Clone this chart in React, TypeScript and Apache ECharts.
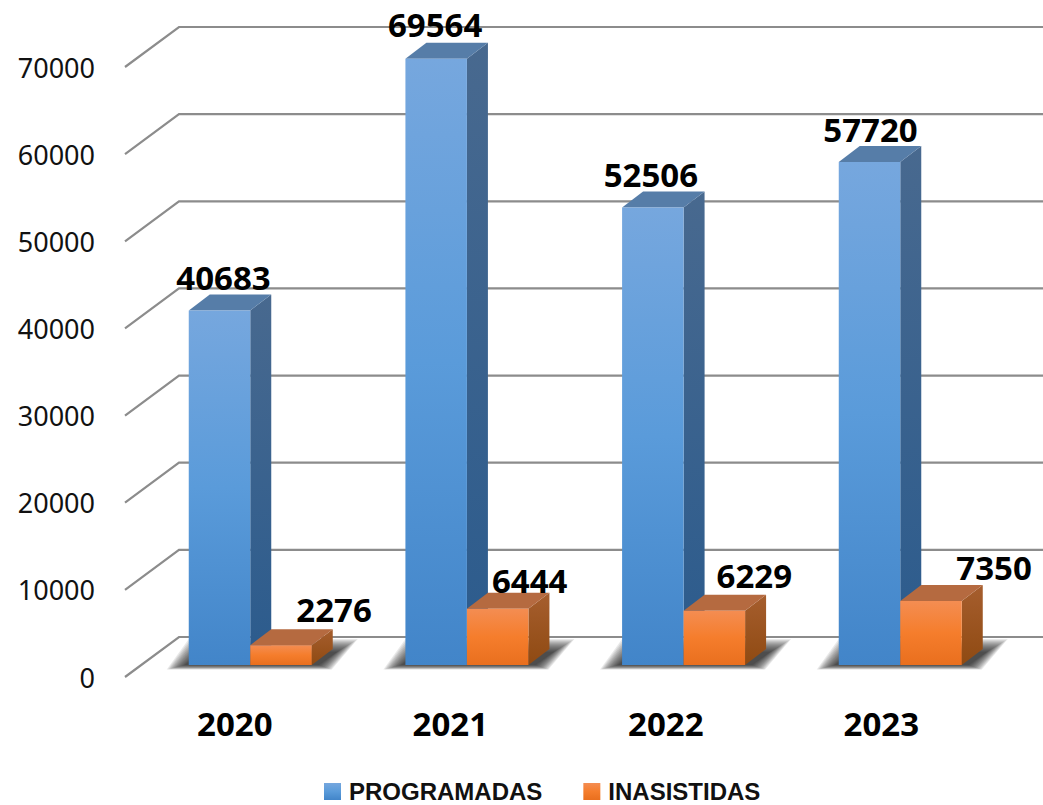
import React, { useEffect, useRef } from "react";
import * as echarts from "echarts";

const categories = ["2020", "2021", "2022", "2023"];
const programadas = [40683, 69564, 52506, 57720];
const inasistidas = [2276, 6444, 6229, 7350];
const axisTicks = [0, 10000, 20000, 30000, 40000, 50000, 60000, 70000];

// Hand-placed label offsets from the bar's top centre, in pixels
const programadasLabelOffsets = [[4, -33], [-1, -34], [-2, -33], [1, -33]];
const inasistidasLabelOffsets = [[53, -36], [32, -28], [40, -35], [63, -33]];
const shadowLayers = [10, 9, 8, 7, 6, 5, 4, 3, 2, 1, 0, -1, -2, -3];

const FONT = "'Noto Sans', sans-serif";
const LEGEND_FONT = "'Liberation Sans', sans-serif";
const DX = 21;
const DY = 16;
const BAR_W = 61.5;
const BASE_SHIFT = -12;
const groupShift = (i: number) => 15.5 + 1.17 * i;

const vgrad = (stops: [number, string][]) =>
  new echarts.graphic.LinearGradient(0, 0, 0, 1, stops.map(([offset, color]) => ({ offset, color })));

const blueFront = () => vgrad([[0, "#76A7DE"], [0.5, "#5A9BDA"], [1, "#4285C9"]]);
const blueSide = () => vgrad([[0, "#48698F"], [1, "#2B5B8D"]]);
const orangeFront = () => vgrad([[0, "#F48D52"], [0.5, "#F57D2C"], [1, "#E96F1E"]]);
const orangeSide = () => vgrad([[0, "#A65E2E"], [1, "#8F4A12"]]);

function barRenderer(
  side: number,
  front: () => any,
  sideFill: () => any,
  topFill: string,
  offsets: number[][]
) {
  return (_params: any, api: any) => {
    const i = api.value(0);
    const top = api.coord([i, api.value(1)]);
    const bottom = api.coord([i, 0]);
    const cx = top[0] + groupShift(i);
    const x0 = side < 0 ? cx - BAR_W : cx;
    const x1 = x0 + BAR_W;
    const yTop = top[1] + BASE_SHIFT;
    const yBase = bottom[1] + BASE_SHIFT;
    const [ox, oy] = offsets[i];
    return {
      type: "group",
      children: [
        {
          type: "polygon",
          shape: { points: [[x1, yTop], [x1 + DX, yTop - DY], [x1 + DX, yBase - DY], [x1, yBase]] },
          style: { fill: sideFill() },
        },
        {
          type: "polygon",
          shape: { points: [[x0, yTop], [x0 + DX, yTop - DY], [x1 + DX, yTop - DY], [x1, yTop]] },
          style: { fill: topFill },
        },
        {
          type: "rect",
          shape: { x: x0, y: yTop, width: BAR_W, height: yBase - yTop },
          style: { fill: front() },
        },
        {
          type: "text",
          x: (x0 + x1) / 2 + ox,
          y: yTop + oy,
          style: {
            text: String(api.value(1)),
            fill: "#000",
            font: `bold 33px ${FONT}`,
            align: "center",
            verticalAlign: "middle",
          },
        },
      ],
    };
  };
}

export default function App() {
  const ref = useRef<HTMLDivElement>(null);

  useEffect(() => {
    document.body.style.margin = "0";
    document.body.style.background = "#fff";
    const chart = echarts.init(ref.current!, null, { renderer: "svg" });

    chart.setOption({
      animation: false,
      backgroundColor: "#fff",
      grid: { left: 127, top: 67, width: 862, height: 610, containLabel: false },
      legend: {
        left: 324,
        top: 779,
        padding: 0,
        itemWidth: 17,
        itemHeight: 17,
        itemGap: 41,
        icon: "rect",
        textStyle: {
          fontFamily: LEGEND_FONT,
          fontWeight: "bold",
          fontSize: 24,
          lineHeight: 25,
          color: "#111",
          padding: [0, 0, 0, 3],
        },
        data: [
          { name: "PROGRAMADAS", itemStyle: { color: blueFront() } },
          { name: "INASISTIDAS", itemStyle: { color: orangeFront() } },
        ],
      },
      xAxis: {
        type: "category",
        data: categories,
        axisLine: { show: false },
        axisTick: { show: false },
        axisLabel: { fontFamily: FONT, fontWeight: "bold", fontSize: 33, color: "#000", margin: 30 },
      },
      yAxis: {
        type: "value",
        min: 0,
        max: 70000,
        interval: 10000,
        axisLine: { show: false },
        axisTick: { show: false },
        splitLine: { show: false },
        axisLabel: {
          fontFamily: FONT,
          fontSize: 27,
          color: "#111",
          margin: 32,
          formatter: (v: number) => String(v),
        },
      },
      series: [
        {
          type: "custom",
          silent: true,
          z: 1,
          data: axisTicks.map((t) => [0, t]),
          renderItem: (params: any, api: any) => {
            const y = api.coord([0, api.value(1)])[1];
            const x = params.coordSys.x - 2;
            return {
              type: "polyline",
              shape: { points: [[x, y], [x + 54, y - 40], [1043, y - 40]] },
              style: { stroke: "#8C8C8C", lineWidth: 2.2, fill: "none" },
            };
          },
        },
        {
          type: "custom",
          silent: true,
          z: 2,
          data: categories.map((_, i) => [i, 0]),
          renderItem: (_params: any, api: any) => {
            const i = api.value(0);
            const p = api.coord([i, 0]);
            const cx = p[0] + groupShift(i);
            const yBase = p[1] + BASE_SHIFT;
            const x0 = cx - BAR_W;
            const x1 = cx + BAR_W;
            return {
              type: "group",
              children: shadowLayers.map((e) => ({
                type: "polygon",
                shape: {
                  points: [
                    [x0 - 8 - e * 1.4, yBase + 1 + e * 0.35],
                    [x0 + 10 - e, yBase - 16 - e],
                    [x1 + 30 + e * 1.6, yBase - 16 - e],
                    [x1 + 10 + e, yBase + 1 + e * 0.35],
                  ],
                },
                style: { fill: "rgba(20,20,20,0.095)" },
              })),
            };
          },
        },
        {
          type: "custom",
          name: "PROGRAMADAS",
          z: 3,
          itemStyle: { color: "#5A9BDA" },
          data: programadas.map((v, i) => [i, v]),
          renderItem: barRenderer(-1, blueFront, blueSide, "#567DA8", programadasLabelOffsets),
        },
        {
          type: "custom",
          name: "INASISTIDAS",
          z: 4,
          itemStyle: { color: "#F57D2C" },
          data: inasistidas.map((v, i) => [i, v]),
          renderItem: barRenderer(1, orangeFront, orangeSide, "#B56A40", inasistidasLabelOffsets),
        },
      ],
    });

    return () => chart.dispose();
  }, []);

  return <div ref={ref} style={{ position: "fixed", left: 0, top: 0, width: 1043, height: 805 }} />;
}
